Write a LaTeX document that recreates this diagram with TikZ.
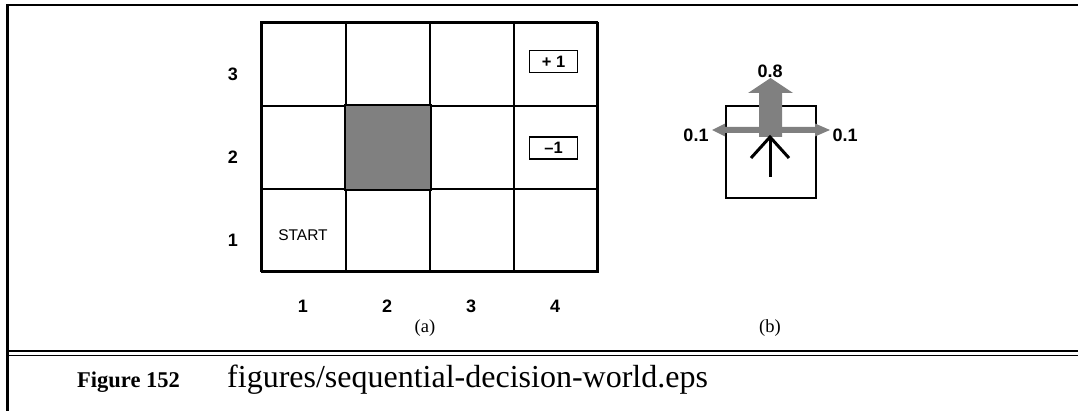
\documentclass[tikz,border=0pt]{standalone}
\usepackage{fontspec}
\setmainfont{Liberation Serif}
\setsansfont{Liberation Sans}
\begin{document}
\begin{tikzpicture}[x=1pt,y=-1pt,
  lab/.style={font=\sffamily\bfseries\fontsize{18}{20}\selectfont, inner sep=0pt},
  cell/.style={draw, line width=2pt, minimum width=84pt, minimum height=83pt, inner sep=0pt, anchor=north west},
  rbox/.style={draw, line width=1.8pt, minimum width=48pt, minimum height=22pt, inner sep=0pt, font=\sffamily\bfseries\fontsize{16.5}{18}\selectfont},
  sub/.style={font=\fontsize{18.5}{20}\selectfont, inner sep=0pt},
  grayc/.style={fill={rgb,255:red,128;green,128;blue,128}, draw=none}]
\useasboundingbox (0,0) rectangle (1078,411);
% frame
\draw[line width=2.5pt] (7.5,411) -- (7.5,5) -- (1078,5);
\draw[line width=1.6pt] (7.5,351) -- (1078,351);
\draw[line width=1.6pt] (7.5,355.5) -- (1078,355.5);
% grid
\foreach \c in {1,...,4}{
  \foreach \r in {1,2,3}{
    \node[cell] (c\c\r) at ({261+84*(\c-1)},{22+83*(3-\r)}) {};
  }
}
\fill[grayc] (c22.north west) rectangle (c22.south east);
\draw[line width=2pt] (c22.north west) rectangle (c22.south east);
\draw[line width=2.5pt] (261,22) rectangle (597,271);
% labels
\node[lab] (r3) at (233,74) {3};
\node[lab] (r2) at (233,157) {2};
\node[lab] (r1) at (233,240) {1};
\node[lab] (k1) at (303,306) {1};
\node[lab] (k2) at (387,306) {2};
\node[lab] (k3) at (471,306) {3};
\node[lab] (k4) at (555,306) {4};
\node[font=\sffamily\fontsize{15.5}{17}\selectfont, inner sep=0pt] (start) at (303,235) {START};
\node[rbox] (plus) at (553.5,61.5) {+ 1};
\node[rbox] (minus) at (553.5,148) {\char"2013 1};
\node[sub] (sa) at (425,328) {(a)};
\node[sub] (sb) at (770,328) {(b)};
% panel b
\node[draw, line width=2pt, minimum width=90pt, minimum height=92pt, inner sep=0pt, anchor=north west] (sq) at (725,105) {};
\fill[grayc] (712,130) -- (725,123.5) -- (725,127) -- (815,127) -- (815,123.5) -- (830,130) -- (815,136.5) -- (815,133) -- (725,133) -- (725,136.5) -- cycle;
\fill[grayc] (759,137) -- (759,93) -- (748,93) -- (770.5,78) -- (793,93) -- (782,93) -- (782,137) -- cycle;
\coordinate (tail) at (770,177);
\coordinate (tip) at (770,137);
\draw[line width=3pt] (tail) -- (tip);
\draw[line width=3pt, line join=miter] (751,158) -- (tip) -- (789,158);
\node[lab] (p8) at (770,71) {0.8};
\node[lab] (pl) at (696,135) {0.1};
\node[lab] (pr) at (845,135) {0.1};
% caption
\node[anchor=base west, inner sep=0pt, font=\bfseries\fontsize{22.5}{24}\selectfont] (fig) at (77,387) {Figure 152};
\node[anchor=base west, inner sep=0pt, font=\fontsize{32}{34}\selectfont] (fn) at (227,387) {figures/sequential-decision-world.eps};
\end{tikzpicture}
\end{document}
